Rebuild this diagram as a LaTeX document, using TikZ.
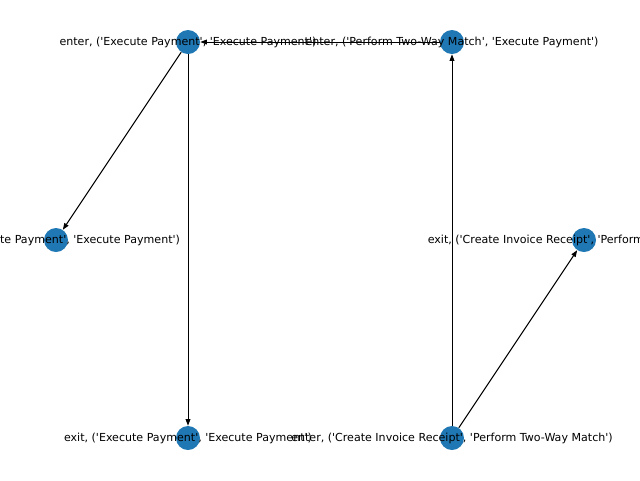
\documentclass[tikz,border=0pt]{standalone}
\usepackage{fontspec}
\newfontfamily\lblfont{DejaVu Sans}
\usetikzlibrary{arrows.meta}
\definecolor{nodeblue}{HTML}{1F77B4}
\tikzset{
  vtx/.style={circle, fill=nodeblue, draw=none, minimum size=18pt, inner sep=0pt},
  lbl/.style={font=\lblfont\fontsize{8.3pt}{10pt}\selectfont, inner sep=0pt, text=black},
  edge/.style={draw=black, line width=0.75pt, -{Triangle[length=5pt,width=3.6pt]}, shorten >=0pt}
}
\begin{document}
\begin{tikzpicture}[x=0.75pt,y=-0.75pt]
\useasboundingbox (0,0) rectangle (640,480);
\clip (0,0) rectangle (640,480);
\node[vtx] (A) at (188,42) {};
\node[vtx] (B) at (452,42) {};
\node[vtx] (C) at (56,240) {};
\node[vtx] (D) at (584,240) {};
\node[vtx] (E) at (188,438) {};
\node[vtx] (F) at (452,438) {};
\draw[edge] (B) -- (A);
\draw[edge] (A) -- (C);
\draw[edge] (A) -- (E);
\draw[edge] (F) -- (B);
\draw[edge] (F) -- (D);
\node[lbl] (lA) at (188,42) {enter, ('Execute Payment', 'Execute Payment')};
\node[lbl] (lB) at (452,42) {enter, ('Perform Two-Way Match', 'Execute Payment')};
\node[lbl] (lC) at (56,240) {exit, ('Execute Payment', 'Execute Payment')};
\node[lbl] (lD) at (584,240) {exit, ('Create Invoice Receipt', 'Perform Two-Way Match')};
\node[lbl] (lE) at (188,438) {exit, ('Execute Payment', 'Execute Payment')};
\node[lbl] (lF) at (452,438) {enter, ('Create Invoice Receipt', 'Perform Two-Way Match')};
\end{tikzpicture}
\end{document}
